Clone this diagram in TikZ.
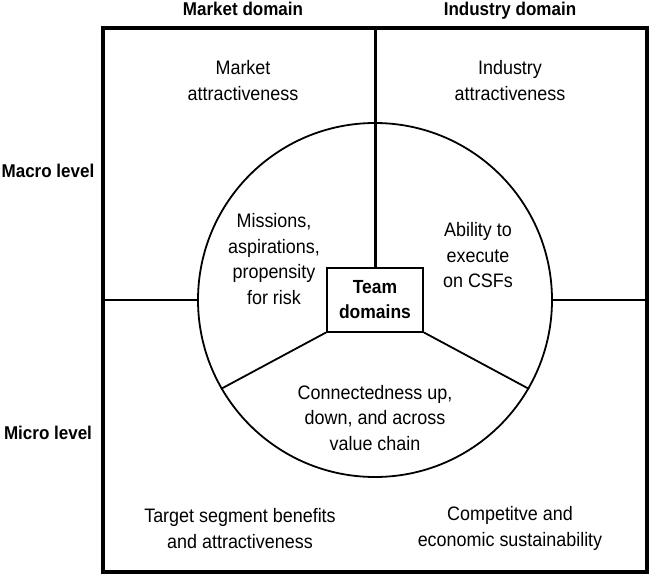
\documentclass[tikz,border=0pt]{standalone}
\usepackage{fontspec}
\setmainfont[FakeStretch=0.92]{Liberation Sans}
\begin{document}
\begin{tikzpicture}[x=1pt,y=-1pt,
  txt/.style={align=center, inner sep=0pt, font=\fontsize{19.5}{25.5}\selectfont},
  lbl/.style={align=center, inner sep=0pt, anchor=base, font=\fontsize{18.5}{20}\selectfont\bfseries},
  thin/.style={line width=1.8pt}]
\useasboundingbox (0,0) rectangle (650,575);
\node[draw, line width=4pt, minimum width=544pt, minimum height=544pt, inner sep=0pt] (outer) at (375,300) {};
\node[draw, thin, circle, minimum size=354pt, inner sep=0pt] (circ) at (375,300) {};
\node[draw, line width=2pt, minimum width=96pt, minimum height=64pt, inner sep=0pt, align=center, font=\fontsize{19}{25.5}\selectfont\bfseries] (team) at (375,299.5) {Team\\domains};
\draw[line width=3pt] (team.north) -- (outer.north);
\draw[thin] (outer.west) -- (circ.west);
\draw[thin] (circ.east) -- (outer.east);
\draw[thin] (team.south west) -- (circ.210);
\draw[thin] (team.south east) -- (circ.330);
\node[lbl] (mdom) at (243,16) {Market domain};
\node[lbl] (idom) at (510,16) {Industry domain};
\node[lbl] (macro) at (48,177) {Macro level};
\node[lbl] (micro) at (48,439) {Micro level};
\node[txt] (ma) at (243,80.5) {Market\\attractiveness};
\node[txt] (ia) at (510,80.5) {Industry\\attractiveness};
\node[txt] (mis) at (274,259) {Missions,\\aspirations,\\propensity\\for risk};
\node[txt] (abl) at (478,255.5) {Ability to\\execute\\on CSFs};
\node[txt] (con) at (375,418) {Connectedness up,\\down, and across\\value chain};
\node[txt, font=\fontsize{19.5}{26.5}\selectfont] (tsb) at (240,528.5) {Target segment benefits\\and attractiveness};
\node[txt, font=\fontsize{19.5}{26.5}\selectfont] (ces) at (510,528.5) {Competitve and\\economic sustainability};
\end{tikzpicture}
\end{document}
